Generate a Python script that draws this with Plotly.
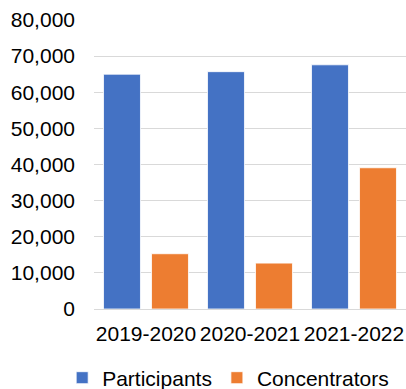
import plotly.graph_objects as go

categories = ["2019-2020", "2020-2021", "2021-2022"]
participants = [65000, 65700, 67600]
concentrators = [15300, 12700, 39100]
tick_vals = [0, 10000, 20000, 30000, 40000, 50000, 60000, 70000, 80000]

FONT = "Liberation Sans, Arial, sans-serif"

fig = go.Figure()
fig.add_trace(go.Bar(name="Participants", x=categories, y=participants,
                     marker=dict(color="#4472C4", line=dict(color="white", width=0.8))))
fig.add_trace(go.Bar(name="Concentrators", x=categories, y=concentrators,
                     marker=dict(color="#ED7D31", line=dict(color="white", width=0.8))))

fig.update_layout(
    width=406, height=389,
    margin=dict(l=94, r=0, t=20, b=80, autoexpand=False),
    paper_bgcolor="white", plot_bgcolor="white",
    barmode="group", bargap=0.077, bargroupgap=0.23,
    font=dict(family=FONT, size=21, color="#000000"),
    showlegend=True,
    legend=dict(orientation="h",
                x=-0.102, xanchor="left", y=-0.168, yanchor="top",
                font=dict(size=21), itemwidth=30, tracegroupgap=0),
)
fig.update_yaxes(range=[0, 80000], tickvals=tick_vals, tickformat=",",
                 showgrid=True, gridcolor="#d9d9d9", gridwidth=1,
                 zeroline=True, zerolinecolor="#d9d9d9", zerolinewidth=1,
                 showline=False, ticks="", ticklabelstandoff=18)
fig.update_xaxes(showgrid=False, showline=False, ticks="", ticklabelstandoff=10)

fig.write_html("out.html")
